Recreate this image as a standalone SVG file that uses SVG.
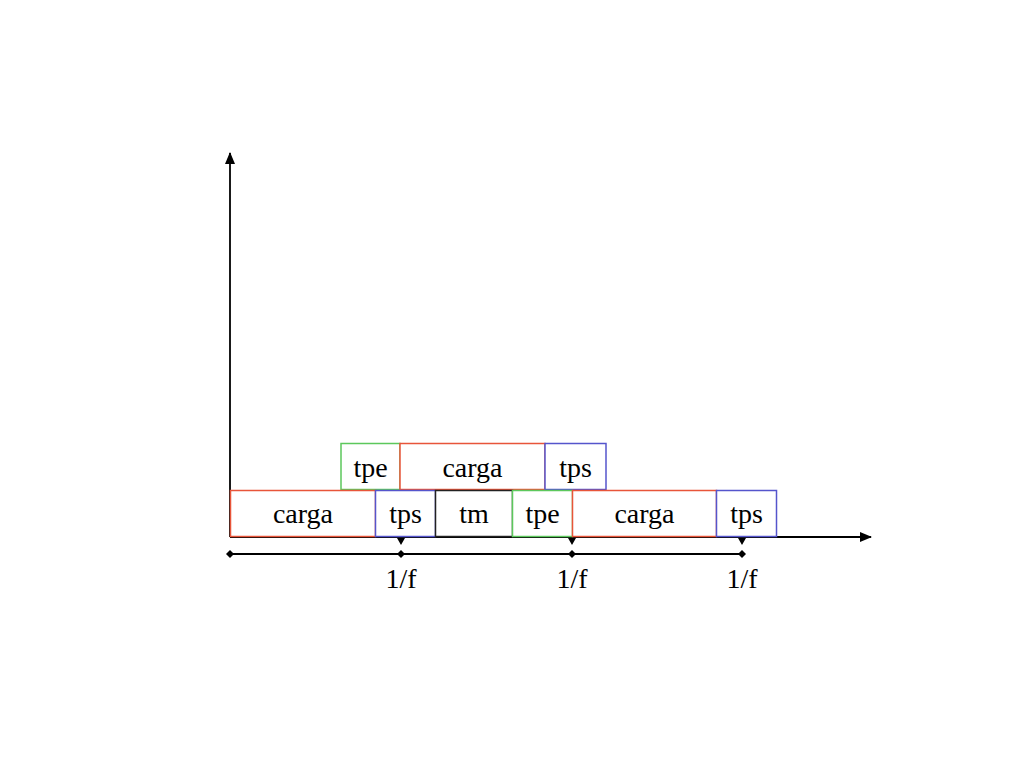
<svg xmlns="http://www.w3.org/2000/svg" width="1024" height="768" viewBox="0 0 1024 768">
<defs>
<marker id="arr" markerWidth="12" markerHeight="10" refX="11" refY="5" orient="auto" markerUnits="userSpaceOnUse"><path d="M0,0 L12,5 L0,10 Z" fill="#000"/></marker>
<marker id="dia" markerWidth="8" markerHeight="8" refX="4" refY="4" orient="auto" markerUnits="userSpaceOnUse"><path d="M0,4 L4,0 L8,4 L4,8 Z" fill="#000"/></marker>
<style>
.box{fill:#fff;stroke-width:1.5}
.r{stroke:#e8553a}.g{stroke:#5cc85c}.b{stroke:#5555cc}.k{stroke:#222}
text{font-family:"Liberation Serif","Times New Roman",serif;font-size:28px;fill:#000;text-anchor:middle}
.ax{stroke:#000;stroke-width:1.8;fill:none}
</style>
</defs>
<rect width="1024" height="768" fill="#fff"/>
<g id="connectors">
<line class="ax" x1="230" y1="537" x2="230" y2="153" marker-end="url(#arr)"/>
<line class="ax" x1="230" y1="537" x2="871" y2="537" marker-end="url(#arr)"/>
<polyline class="ax" points="230,554 401,554 572,554 742,554" marker-start="url(#dia)" marker-mid="url(#dia)" marker-end="url(#dia)"/>
<path d="M397,538 L405,538 L401,545 Z M568,538 L576,538 L572,545 Z M738,538 L746,538 L742,545 Z" fill="#000"/>
</g>
<g id="top-tpe"><rect class="box g" x="341" y="443.5" width="59" height="46"/><text x="370.5" y="477">tpe</text></g>
<g id="top-carga"><rect class="box r" x="400" y="443.5" width="145" height="46"/><text x="472.5" y="477">carga</text></g>
<g id="top-tps"><rect class="box b" x="545" y="443.5" width="61" height="46"/><text x="575.5" y="477">tps</text></g>
<g id="carga1"><rect class="box r" x="230.5" y="490.5" width="145" height="46"/><text x="303" y="523">carga</text></g>
<g id="tps1"><rect class="box b" x="375.5" y="490.5" width="60" height="46"/><text x="405.5" y="523">tps</text></g>
<g id="tm"><rect class="box k" x="435.5" y="490.5" width="77" height="46"/><text x="474" y="523">tm</text></g>
<g id="tpe1"><rect class="box g" x="512.5" y="490.5" width="60" height="46"/><text x="542.5" y="523">tpe</text></g>
<g id="carga2"><rect class="box r" x="572.5" y="490.5" width="144" height="46"/><text x="644.5" y="523">carga</text></g>
<g id="tps2"><rect class="box b" x="716.5" y="490.5" width="60" height="46"/><text x="746.5" y="523">tps</text></g>
<g id="labels">
<text x="401" y="588">1/f</text>
<text x="572" y="588">1/f</text>
<text x="742" y="588">1/f</text>
</g>
</svg>
